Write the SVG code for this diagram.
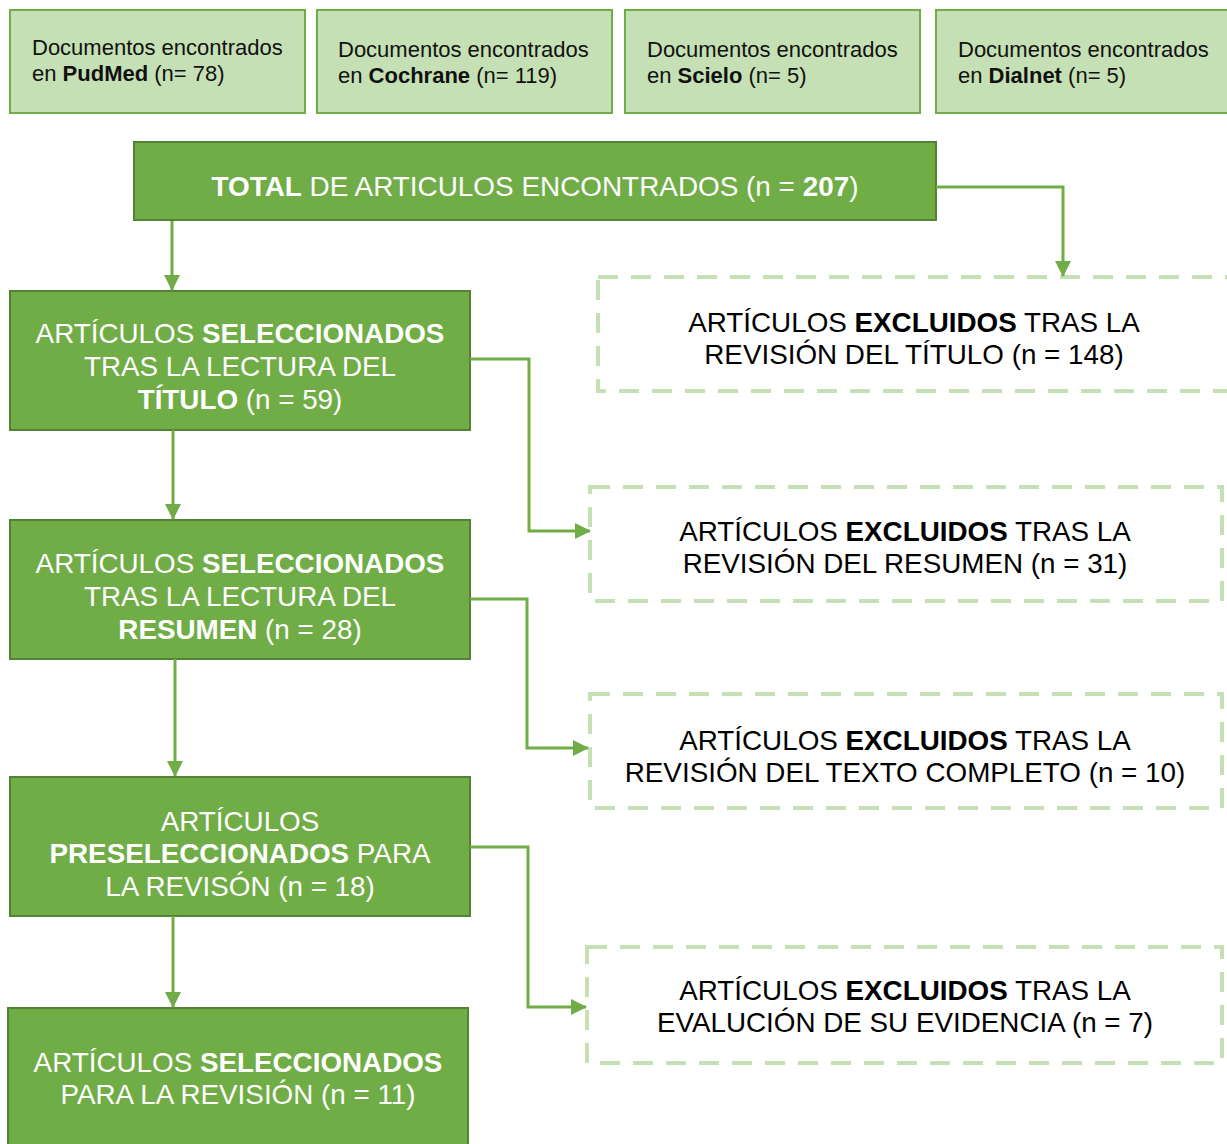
<svg xmlns="http://www.w3.org/2000/svg" width="1227" height="1144" viewBox="0 0 1227 1144">
<defs>
<style>
.src{fill:#c5e0b4;stroke:#70ad47;stroke-width:2}
.main{fill:#70ad47;stroke:#548235;stroke-width:2}
.excl{fill:none;stroke:#c5e0b4;stroke-width:4;stroke-dasharray:20 13}
.st{font-family:"Liberation Sans",Arial,sans-serif;font-size:22px;fill:#111}
.wt{font-family:"Liberation Sans",Arial,sans-serif;font-size:27.8px;fill:#fff;text-anchor:middle}
.bt{font-family:"Liberation Sans",Arial,sans-serif;font-size:27.8px;fill:#000;text-anchor:middle}
.b{font-weight:bold}
.conn{fill:none;stroke:#70ad47;stroke-width:3}
</style>
<marker id="ah" viewBox="0 0 16 16" refX="15" refY="8" markerWidth="16" markerHeight="16" markerUnits="userSpaceOnUse" orient="auto">
<path d="M0,0 L16,8 L0,16 Z" fill="#70ad47"/>
</marker>
</defs>
<rect width="1227" height="1144" fill="#fff"/>

<g id="src-pubmed">
<rect class="src" x="10" y="10" width="295" height="103"/>
<text class="st" x="32" y="55">Documentos encontrados</text>
<text class="st" x="32" y="81">en <tspan class="b">PudMed</tspan> (n= 78)</text>
</g>
<g id="src-cochrane">
<rect class="src" x="317" y="10" width="295" height="103"/>
<text class="st" x="338" y="57">Documentos encontrados</text>
<text class="st" x="338" y="83">en <tspan class="b">Cochrane</tspan> (n= 119)</text>
</g>
<g id="src-scielo">
<rect class="src" x="625" y="10" width="295" height="103"/>
<text class="st" x="647" y="57">Documentos encontrados</text>
<text class="st" x="647" y="83">en <tspan class="b">Scielo</tspan> (n= 5)</text>
</g>
<g id="src-dialnet">
<rect class="src" x="936" y="10" width="300" height="103"/>
<text class="st" x="958" y="57">Documentos encontrados</text>
<text class="st" x="958" y="83">en <tspan class="b">Dialnet</tspan> (n= 5)</text>
</g>

<g id="total">
<rect class="main" x="134" y="142" width="802" height="78"/>
<text class="wt" x="535" y="196" textLength="647" lengthAdjust="spacingAndGlyphs"><tspan class="b">TOTAL</tspan> DE ARTICULOS ENCONTRADOS (n = <tspan class="b">207</tspan>)</text>
</g>

<g id="sel-titulo">
<rect class="main" x="10" y="291" width="460" height="139"/>
<text class="wt" x="240" y="343">ARTÍCULOS <tspan class="b">SELECCIONADOS</tspan></text>
<text class="wt" x="240" y="376">TRAS LA LECTURA DEL</text>
<text class="wt" x="240" y="409"><tspan class="b">TÍTULO</tspan> (n = 59)</text>
</g>
<g id="sel-resumen">
<rect class="main" x="10" y="520" width="460" height="139"/>
<text class="wt" x="240" y="573">ARTÍCULOS <tspan class="b">SELECCIONADOS</tspan></text>
<text class="wt" x="240" y="606">TRAS LA LECTURA DEL</text>
<text class="wt" x="240" y="639"><tspan class="b">RESUMEN</tspan> (n = 28)</text>
</g>
<g id="preselec">
<rect class="main" x="10" y="777" width="460" height="139"/>
<text class="wt" x="240" y="831">ARTÍCULOS</text>
<text class="wt" x="240" y="863"><tspan class="b">PRESELECCIONADOS</tspan> PARA</text>
<text class="wt" x="240" y="896">LA REVISÓN (n = 18)</text>
</g>
<g id="sel-final">
<rect class="main" x="8" y="1008" width="460" height="150"/>
<text class="wt" x="238" y="1072">ARTÍCULOS <tspan class="b">SELECCIONADOS</tspan></text>
<text class="wt" x="238" y="1104">PARA LA REVISIÓN (n = 11)</text>
</g>

<g id="excl-titulo">
<rect class="excl" x="598" y="277" width="640" height="114"/>
<text class="bt" x="914" y="332">ARTÍCULOS <tspan class="b">EXCLUIDOS</tspan> TRAS LA</text>
<text class="bt" x="914" y="364">REVISIÓN DEL TÍTULO (n = 148)</text>
</g>
<g id="excl-resumen">
<rect class="excl" x="590" y="487" width="632" height="114"/>
<text class="bt" x="905" y="541">ARTÍCULOS <tspan class="b">EXCLUIDOS</tspan> TRAS LA</text>
<text class="bt" x="905" y="573">REVISIÓN DEL RESUMEN (n = 31)</text>
</g>
<g id="excl-texto">
<rect class="excl" x="590" y="694" width="632" height="114"/>
<text class="bt" x="905" y="750">ARTÍCULOS <tspan class="b">EXCLUIDOS</tspan> TRAS LA</text>
<text class="bt" x="905" y="782">REVISIÓN DEL TEXTO COMPLETO (n = 10)</text>
</g>
<g id="excl-evidencia">
<rect class="excl" x="587" y="947" width="635" height="116"/>
<text class="bt" x="905" y="1000">ARTÍCULOS <tspan class="b">EXCLUIDOS</tspan> TRAS LA</text>
<text class="bt" x="905" y="1032">EVALUCIÓN DE SU EVIDENCIA (n = 7)</text>
</g>

<g id="connectors">
<path class="conn" d="M172,221 V290" marker-end="url(#ah)"/>
<path class="conn" d="M936,187 H1063 V276" marker-end="url(#ah)"/>
<path class="conn" d="M173,430 V519" marker-end="url(#ah)"/>
<path class="conn" d="M470,359 H529 V531 H590" marker-end="url(#ah)"/>
<path class="conn" d="M175,659 V776" marker-end="url(#ah)"/>
<path class="conn" d="M470,599 H527 V748 H588" marker-end="url(#ah)"/>
<path class="conn" d="M173,916 V1007" marker-end="url(#ah)"/>
<path class="conn" d="M470,847 H528 V1007 H586" marker-end="url(#ah)"/>
</g>
</svg>
